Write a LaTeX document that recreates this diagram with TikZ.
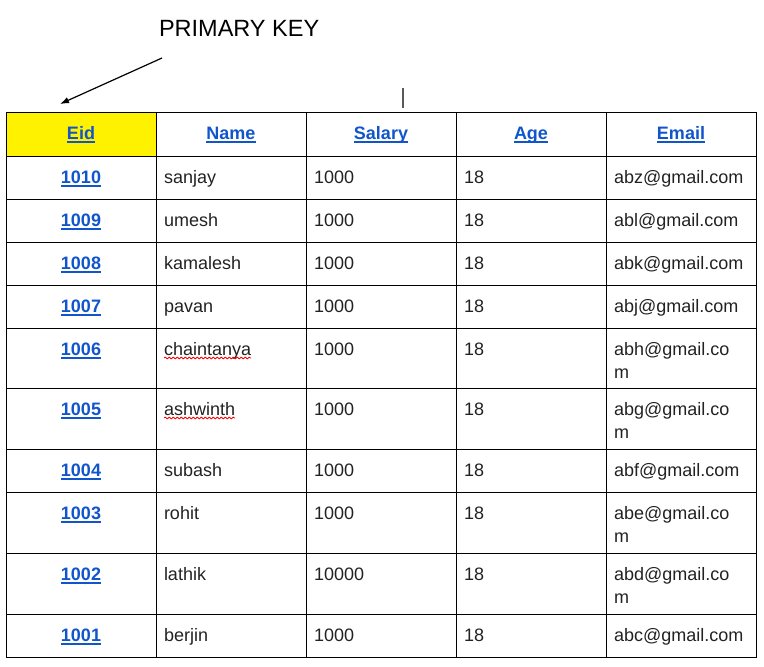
\documentclass[tikz,border=0pt]{standalone}
\usepackage{fontspec}
\setmainfont{Liberation Sans}
\usepackage{tikz}
\usetikzlibrary{arrows.meta,calc,decorations.pathmorphing}
\definecolor{linkblue}{HTML}{1155CC}
\definecolor{celltext}{HTML}{222222}
\newcommand{\linktext}[1]{\setbox0\hbox{#1}\rlap{\rule[-3.6pt]{\wd0}{1.5pt}}\box0}

\begin{document}
\begin{tikzpicture}[x=1pt, y=-1pt,
  every node/.style={inner sep=0pt, outer sep=0pt, font=\fontsize{18}{23}\selectfont},
  hd/.style={anchor=base, text=linkblue, font=\fontsize{18}{23}\selectfont\bfseries},
  key/.style={anchor=base, text=linkblue, font=\fontsize{18}{23}\selectfont\bfseries},
  cell/.style={anchor=base west, text=celltext, align=left},
  squiggle/.style={red, line width=0.8pt, decorate, decoration={snake, amplitude=0.9pt, segment length=4pt}}]
\useasboundingbox (0,0) rectangle (764,667);

\fill[yellow] (6,112) rectangle (156,156);

\node[anchor=base west, font=\fontsize{23.5}{28}\selectfont] (pk) at (159,36) {PRIMARY KEY};
\coordinate (pk-start) at (162,58);
\coordinate (pk-end) at (60,104);
\draw[line width=1.2pt, -{Latex[length=9pt, width=6.5pt]}] (pk-start) -- (pk-end);
\draw[gray!70!black, line width=1.5pt] (403,88) -- (403,108);

\node[hd] (h-eid) at (81,139) {\linktext{Eid}};
\node[hd] (h-name) at (231,139) {\linktext{Name}};
\node[hd] (h-salary) at (381,139) {\linktext{Salary}};
\node[hd] (h-age) at (531,139) {\linktext{Age}};
\node[hd] (h-email) at (681,139) {\linktext{Email}};

\node[key] (e1010) at (81,183) {\linktext{1010}};
\node[cell] (n1010) at (164,183) {sanjay};
\node[cell] (s1010) at (314,183) {1000};
\node[cell] (a1010) at (464,183) {18};
\node[cell] (m1010) at (614,183) {abz@gmail.com};

\node[key] (e1009) at (81,226) {\linktext{1009}};
\node[cell] (n1009) at (164,226) {umesh};
\node[cell] (s1009) at (314,226) {1000};
\node[cell] (a1009) at (464,226) {18};
\node[cell] (m1009) at (614,226) {abl@gmail.com};

\node[key] (e1008) at (81,269) {\linktext{1008}};
\node[cell] (n1008) at (164,269) {kamalesh};
\node[cell] (s1008) at (314,269) {1000};
\node[cell] (a1008) at (464,269) {18};
\node[cell] (m1008) at (614,269) {abk@gmail.com};

\node[key] (e1007) at (81,312) {\linktext{1007}};
\node[cell] (n1007) at (164,312) {pavan};
\node[cell] (s1007) at (314,312) {1000};
\node[cell] (a1007) at (464,312) {18};
\node[cell] (m1007) at (614,312) {abj@gmail.com};

% wrapped cells: base is the last line
\node[key] (e1006) at (81,355) {\linktext{1006}};
\node[cell] (n1006) at (164,355) {chaintanya};
\node[cell] (s1006) at (314,355) {1000};
\node[cell] (a1006) at (464,355) {18};
\node[cell] (m1006) at (614,378) {abh@gmail.co\\m};

\node[key] (e1005) at (81,415) {\linktext{1005}};
\node[cell] (n1005) at (164,415) {ashwinth};
\node[cell] (s1005) at (314,415) {1000};
\node[cell] (a1005) at (464,415) {18};
\node[cell] (m1005) at (614,438) {abg@gmail.co\\m};

\node[key] (e1004) at (81,476) {\linktext{1004}};
\node[cell] (n1004) at (164,476) {subash};
\node[cell] (s1004) at (314,476) {1000};
\node[cell] (a1004) at (464,476) {18};
\node[cell] (m1004) at (614,476) {abf@gmail.com};

\node[key] (e1003) at (81,519) {\linktext{1003}};
\node[cell] (n1003) at (164,519) {rohit};
\node[cell] (s1003) at (314,519) {1000};
\node[cell] (a1003) at (464,519) {18};
\node[cell] (m1003) at (614,542) {abe@gmail.co\\m};

\node[key] (e1002) at (81,580) {\linktext{1002}};
\node[cell] (n1002) at (164,580) {lathik};
\node[cell] (s1002) at (314,580) {10000};
\node[cell] (a1002) at (464,580) {18};
\node[cell] (m1002) at (614,603) {abd@gmail.co\\m};

\node[key] (e1001) at (81,641) {\linktext{1001}};
\node[cell] (n1001) at (164,641) {berjin};
\node[cell] (s1001) at (314,641) {1000};
\node[cell] (a1001) at (464,641) {18};
\node[cell] (m1001) at (614,641) {abc@gmail.com};

% spell check marks
\draw[squiggle] ($(n1006.base west)+(0,3)$) -- ($(n1006.base east)+(0,3)$);
\draw[squiggle] ($(n1005.base west)+(0,3)$) -- ($(n1005.base east)+(0,3)$);

\draw[line width=1pt] (6,112) rectangle (756,657);
\draw[line width=1pt] (6,156) -- (756,156);
\draw[line width=1pt] (6,199) -- (756,199);
\draw[line width=1pt] (6,242) -- (756,242);
\draw[line width=1pt] (6,285) -- (756,285);
\draw[line width=1pt] (6,328) -- (756,328);
\draw[line width=1pt] (6,388) -- (756,388);
\draw[line width=1pt] (6,449) -- (756,449);
\draw[line width=1pt] (6,492) -- (756,492);
\draw[line width=1pt] (6,553) -- (756,553);
\draw[line width=1pt] (6,614) -- (756,614);
\draw[line width=1pt] (156,112) -- (156,657);
\draw[line width=1pt] (306,112) -- (306,657);
\draw[line width=1pt] (456,112) -- (456,657);
\draw[line width=1pt] (606,112) -- (606,657);
\end{tikzpicture}
\end{document}
